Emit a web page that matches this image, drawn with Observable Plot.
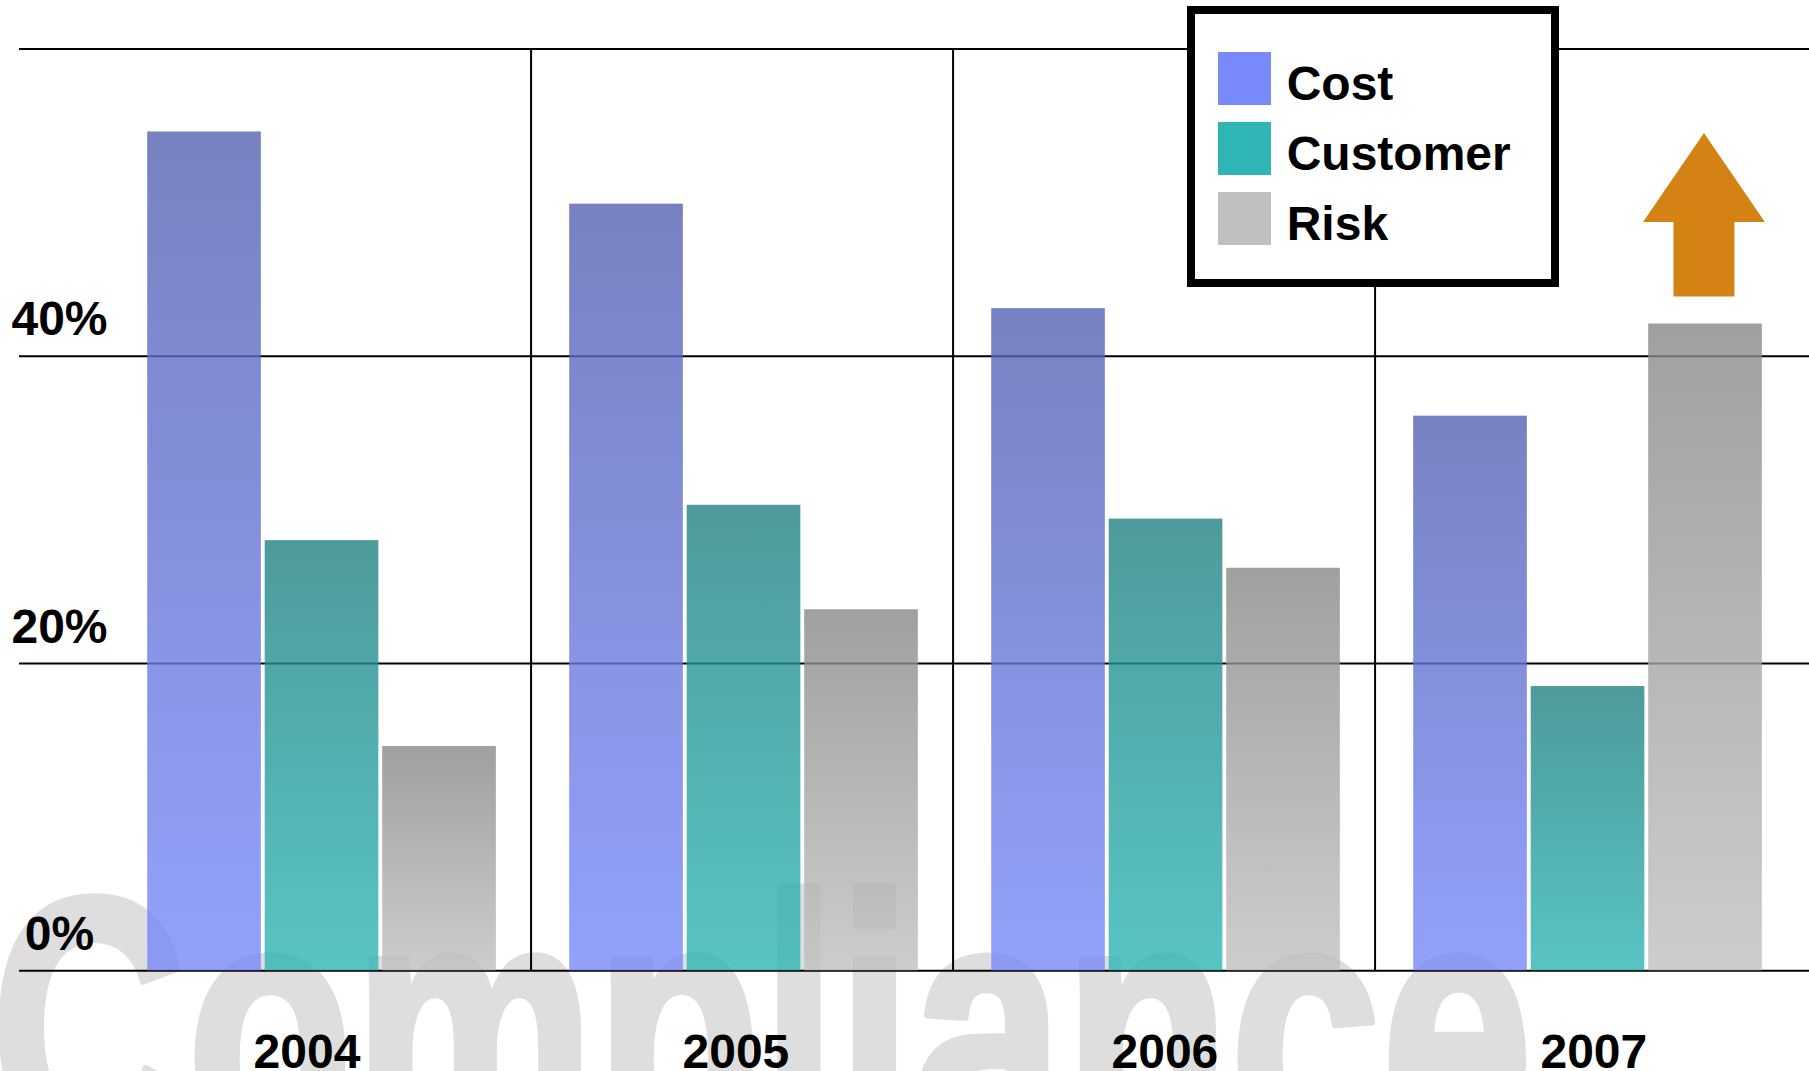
<!DOCTYPE html>
<html>
<head>
<meta charset="utf-8">
<script src="https://cdn.jsdelivr.net/npm/d3@7"></script>
<script src="https://cdn.jsdelivr.net/npm/@observablehq/plot@0.6"></script>
<style>
  html, body { margin: 0; padding: 0; background: #fff; overflow: hidden; }
  #wrap { position: relative; width: 1809px; height: 1071px; overflow: hidden; }
  #legend {
    position: absolute; left: 1187px; top: 6px; width: 372px; height: 281px;
    box-sizing: border-box; border: 8px solid #000; background: #fff;
    padding: 37.7px 0 0 22.7px;
    font: bold 48px "Liberation Sans", Arial, sans-serif; color: #000;
  }
  #legend .row { display: flex; align-items: flex-start; height: 70px; }
  #legend .sw { width: 53px; height: 53px; flex: none; }
  #legend .row span { margin-left: 16px; line-height: 53px; position: relative; top: 5px; white-space: nowrap; }
</style>
</head>
<body>
<div id="wrap"></div>
<script>
// ---- data ----
const years = ["2004", "2005", "2006", "2007"];
const series = ["Cost", "Customer", "Risk"];
const cost = [54.6, 49.9, 43.1, 36.1];
const customer = [28.0, 30.3, 29.4, 18.5];
const risk = [14.6, 23.5, 26.2, 42.1];
const seriesColors = ["#7889FA", "#2FB5B5", "#C0C0C0"];
const gridValues = [0, 20, 40, 60];
const yTicks = [0, 20, 40];
const yTickLabels = ["0%", "20%", "40%"];
const watermark = "Compliance";
// upward arrow annotation over 2007 Risk (values in %)
const arrowYear = "2007";
const arrowSeries = "Risk";
const arrowBase = 43.85, arrowHeadBase = 48.7, arrowTip = 54.5;

const valuesBySeries = {Cost: cost, Customer: customer, Risk: risk};
const table = years.flatMap((year, i) =>
  series.map(s => ({year, series: s, value: valuesBySeries[s][i]}))
);

// ---- layout ----
const W = 1809, H = 1071;
const xRange = [106.8, 1798.2];
const bandwidth = (xRange[1] - xRange[0]) / years.length;
const barWidth = 114.5, barStep = 117.5, groupOffset = 38.2;
const insetL = j => groupOffset + j * barStep;
const insetR = j => bandwidth - insetL(j) - barWidth;
const labelFirst = 304.7, labelStep = 429.8;
const font = "'Liberation Sans', Arial, Helvetica, sans-serif";
const barOpacity = 0.8;
const watermarkLength = 1542;

function defsMark() {
  const defs = d3.create("svg:defs");
  series.forEach((s, j) => {
    const c = d3.rgb(seriesColors[j]);
    const top = d3.rgb(c.r * 0.71, c.g * 0.71, c.b * 0.71);
    const g = defs.append("linearGradient").attr("id", "grad" + s)
      .attr("x1", 0).attr("y1", 0).attr("x2", 0).attr("y2", 1);
    g.append("stop").attr("offset", 0).attr("stop-color", top.formatHex());
    g.append("stop").attr("offset", 1).attr("stop-color", c.formatHex());
  });
  return defs.node();
}

function arrowMark(index, scales) {
  const g = d3.create("svg:g");
  if (!scales || typeof scales.x !== "function" || typeof scales.y !== "function") return g.node();
  const j = series.indexOf(arrowSeries);
  const cx = scales.x(arrowYear) + insetL(j) + barWidth / 2 - 1.5;
  const headHalf = barWidth * 0.532, shaftHalf = barWidth * 0.266;
  const yb = scales.y(arrowBase), yh = scales.y(arrowHeadBase), yt = scales.y(arrowTip);
  const pts = [
    [cx - shaftHalf, yb], [cx - shaftHalf, yh], [cx - headHalf, yh], [cx, yt],
    [cx + headHalf, yh], [cx + shaftHalf, yh], [cx + shaftHalf, yb]
  ];
  g.append("polygon").attr("points", pts.map(p => p.join(",")).join(" ")).attr("fill", "#D38213");
  return g.node();
}

const barMarks = series.map((s, j) =>
  Plot.barY(table.filter(d => d.series === s), {
    x: "year", y: "value",
    fill: `url(#grad${s})`, fillOpacity: barOpacity,
    insetLeft: insetL(j), insetRight: insetR(j)
  })
);

const yearLabelMarks = years.map((yr, i) => {
  const center = xRange[0] + bandwidth * (i + 0.5);
  return Plot.text([yr], {
    x: d => d, text: d => d, frameAnchor: "bottom", lineAnchor: "bottom",
    dy: 97.2, dx: labelFirst + i * labelStep - center,
    fontSize: 48, fontWeight: "bold", fill: "#000"
  });
});

const chart = Plot.plot({
  width: W, height: H,
  marginTop: 48.5, marginBottom: 100.7, marginLeft: 19, marginRight: 0,
  x: {type: "band", domain: years, range: xRange, padding: 0, axis: null},
  y: {domain: [0, 60], axis: null},
  style: {fontFamily: font, background: "#fff", overflow: "hidden"},
  marks: [
    defsMark,
    Plot.text([watermark], {
      text: d => d, frameAnchor: "bottom-left", textAnchor: "start", lineAnchor: "bottom",
      dx: -29, dy: 184.7, fill: "#DEDEDE", stroke: "#DEDEDE", strokeWidth: 8,
      strokeLinejoin: "round", fontSize: 370, fontWeight: "bold"
    }),
    Plot.ruleY(gridValues, {stroke: "#000", strokeWidth: 2}),
    Plot.ruleX(years.slice(1), {x: d => d, y1: 0, y2: 60, dx: -bandwidth / 2, stroke: "#000", strokeWidth: 2}),
    ...barMarks,
    arrowMark,
    Plot.text(yTicks, {
      y: d => d, text: (d, i) => yTickLabels[i], frameAnchor: "left",
      dx: 40, dy: -21, textAnchor: "middle", lineAnchor: "bottom",
      fontSize: 48, fontWeight: "bold", fill: "#000"
    }),
    ...yearLabelMarks
  ]
});

// condense the watermark horizontally to the reference width
d3.select(chart).selectAll("text")
  .filter(function() { return this.textContent === watermark; })
  .attr("textLength", watermarkLength)
  .attr("lengthAdjust", "spacingAndGlyphs");

const wrap = document.getElementById("wrap");
wrap.appendChild(chart);

const legend = d3.select(wrap).append("div").attr("id", "legend");
series.forEach((s, j) => {
  const row = legend.append("div").attr("class", "row");
  row.append("div").attr("class", "sw").style("background", seriesColors[j]);
  row.append("span").text(s);
});
</script>
</body>
</html>
